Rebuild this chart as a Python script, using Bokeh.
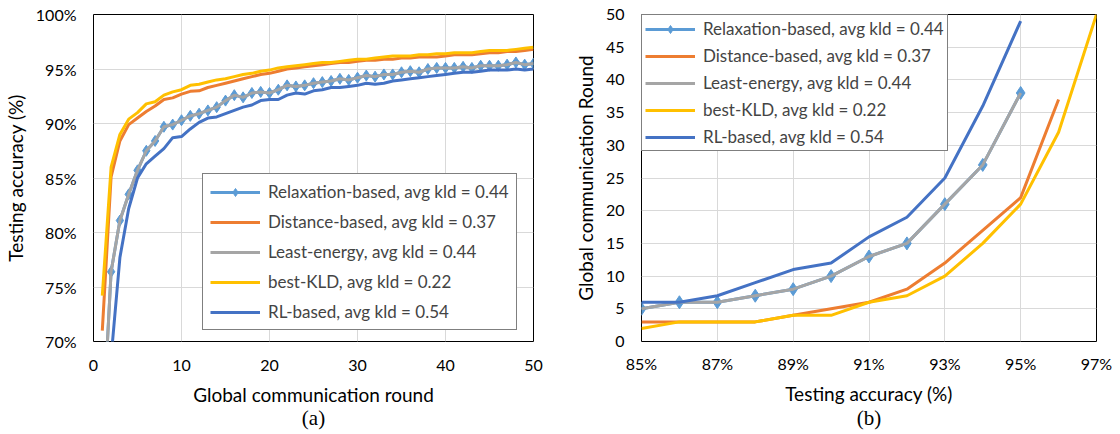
from bokeh.plotting import figure
from bokeh.layouts import row
from bokeh.models import (Legend, LegendItem, Range1d, FixedTicker, PrintfTickFormatter, Title)
from bokeh.embed import file_html
from bokeh.resources import INLINE

# ---------------- data (a) ----------------
rounds = list(range(1, 51))
relax_acc = [61.0, 76.4, 81.1, 83.5, 85.7, 87.5, 88.4, 89.7, 89.9, 90.3,
             90.7, 90.9, 91.2, 91.5, 92.1, 92.6, 92.4, 92.8, 92.9, 92.8,
             93.1, 93.5, 93.4, 93.5, 93.7, 93.8, 93.9, 94.1, 94.0, 94.2,
             94.4, 94.3, 94.5, 94.5, 94.7, 94.8, 94.7, 95.0, 95.1, 95.1,
             95.1, 95.2, 95.1, 95.3, 95.3, 95.3, 95.4, 95.6, 95.4, 95.5]
least_acc = list(relax_acc)
dist_acc = [71.0, 85.1, 88.4, 89.9, 90.5, 91.1, 91.6, 92.2, 92.35, 92.7,
            92.95, 93.0, 93.3, 93.5, 93.7, 93.9, 94.1, 94.3, 94.5, 94.6,
            94.8, 95.0, 95.1, 95.2, 95.3, 95.4, 95.5, 95.6, 95.6, 95.7,
            95.8, 95.8, 95.9, 95.9, 96.0, 96.0, 96.1, 96.1, 96.1, 96.2,
            96.3, 96.3, 96.3, 96.4, 96.5, 96.5, 96.6, 96.6, 96.7, 96.8]
kld_acc = [74.2, 86.0, 89.0, 90.4, 91.0, 91.8, 92.0, 92.6, 92.9, 93.1,
           93.5, 93.6, 93.8, 94.0, 94.1, 94.3, 94.5, 94.6, 94.8, 94.9,
           95.1, 95.2, 95.3, 95.4, 95.5, 95.6, 95.6, 95.7, 95.8, 95.9,
           95.9, 96.0, 96.1, 96.2, 96.2, 96.2, 96.3, 96.3, 96.4, 96.4,
           96.5, 96.5, 96.5, 96.6, 96.7, 96.7, 96.7, 96.8, 96.9, 97.0]
rl_acc = [50.0, 68.5, 77.7, 82.2, 85.0, 86.3, 87.0, 87.7, 88.7, 88.8,
          89.5, 90.1, 90.5, 90.6, 90.9, 91.2, 91.5, 91.7, 92.1, 92.2,
          92.2, 92.6, 92.8, 92.7, 93.0, 93.1, 93.3, 93.3, 93.4, 93.5,
          93.7, 93.6, 93.7, 93.9, 94.0, 94.1, 94.2, 94.3, 94.4, 94.5,
          94.6, 94.7, 94.7, 94.8, 94.9, 94.9, 94.9, 95.0, 94.9, 95.0]

# ---------------- data (b) ----------------
acc_relax = [85, 86, 87, 88, 89, 90, 91, 92, 93, 94, 95]
rnd_relax = [5, 6, 6, 7, 8, 10, 13, 15, 21, 27, 38]
acc_dist = [85, 86, 87, 88, 89, 90, 91, 92, 93, 94, 95, 96]
rnd_dist = [3, 3, 3, 3, 4, 5, 6, 8, 12, 17, 22, 37]
acc_least = [85, 86, 87, 88, 89, 90, 91, 92, 93, 94, 95]
rnd_least = [5, 6, 6, 7, 8, 10, 13, 15, 21, 27, 38]
acc_kld = [85, 86, 87, 88, 89, 90, 91, 92, 93, 94, 95, 96, 97]
rnd_kld = [2, 3, 3, 3, 4, 4, 6, 7, 10, 15, 21, 32, 50]
acc_rl = [85, 86, 87, 88, 89, 90, 91, 92, 93, 94, 95]
rnd_rl = [6, 6, 7, 9, 11, 12, 16, 19, 25, 36, 49]

labels = ["Relaxation-based, avg kld = 0.44",
          "Distance-based, avg kld = 0.37",
          "Least-energy, avg kld = 0.44",
          "best-KLD, avg kld = 0.22",
          "RL-based, avg kld = 0.54"]
colors = ["#5B9BD5", "#ED7D31", "#A5A5A5", "#FFC000", "#4472C4"]

FONT = "Lato"
SERIF = "Liberation Serif"
LW = 3


def style(p, xlabel, ylabel, tag, tick_off, lab_off, title_off):
    p.outline_line_color = "black"
    p.outline_line_width = 1
    p.grid.grid_line_color = "#D9D9D9"
    p.grid.grid_line_width = 1
    for ax in (p.xaxis[0], p.yaxis[0]):
        ax.axis_line_color = None
        ax.major_tick_line_color = None
        ax.minor_tick_line_color = None
        ax.major_tick_in = 0
        ax.major_tick_out = 0
        ax.major_label_text_font = FONT
        ax.major_label_text_font_size = "16px"
        ax.major_label_text_color = "#000000"
        ax.axis_label_text_font = FONT
        ax.axis_label_text_font_size = "19px"
        ax.axis_label_text_font_style = "normal"
        ax.axis_label_text_color = "#000000"
    p.xaxis[0].axis_label = xlabel
    p.yaxis[0].axis_label = ylabel
    p.xaxis[0].major_label_standoff = tick_off
    p.yaxis[0].major_label_standoff = 17
    p.xaxis[0].axis_label_standoff = lab_off
    p.yaxis[0].axis_label_standoff = 6
    t = Title(text=tag, align="center", text_font=SERIF, text_font_size="21px",
              text_font_style="normal", text_color="#000000", standoff=title_off,
              text_line_height=0.9)
    p.add_layout(t, "below")


def make_legend(renderer_groups, **kw):
    items = [LegendItem(label=lab, renderers=r) for lab, r in zip(labels, renderer_groups)]
    return Legend(items=items, border_line_color="black", border_line_width=1,
                  background_fill_alpha=1.0, glyph_width=50, glyph_height=20,
                  label_standoff=8, label_height=20, margin=0,
                  label_text_font=FONT, label_text_font_size="17px", **kw)


# ---------------- figure (a) ----------------
pa = figure(width=570, height=434, output_backend="svg", toolbar_location=None,
            x_range=Range1d(0, 50), y_range=Range1d(70, 100),
            min_border_left=93, min_border_right=37, min_border_top=14,
            min_border_bottom=93, background_fill_color="white")
pa.xaxis.ticker = FixedTicker(ticks=[0, 10, 20, 30, 40, 50])
pa.yaxis.ticker = FixedTicker(ticks=[70, 75, 80, 85, 90, 95, 100])
pa.yaxis.formatter = PrintfTickFormatter(format="%d%%")
style(pa, "Global communication round", "Testing accuracy (%)", "(a)", 18, 9, -9)

ra1 = pa.line(rounds, relax_acc, color=colors[0], line_width=LW)
ra1m = pa.scatter(rounds, relax_acc, marker="diamond", size=11, color=colors[0])
ra2 = pa.line(rounds, dist_acc, color=colors[1], line_width=LW)
ra3 = pa.line(rounds, least_acc, color=colors[2], line_width=LW)
ra4 = pa.line(rounds, kld_acc, color=colors[3], line_width=LW)
ra5 = pa.line(rounds, rl_acc, color=colors[4], line_width=LW)

leg_a = make_legend([[ra1, ra1m], [ra2], [ra3], [ra4], [ra5]],
                    location=(109, 11), padding=7, spacing=9)
pa.add_layout(leg_a, "center")

# ---------------- figure (b) ----------------
pb = figure(width=550, height=434, output_backend="svg", toolbar_location=None,
            x_range=Range1d(85, 97), y_range=Range1d(0, 50),
            min_border_left=70, min_border_right=24, min_border_top=14,
            min_border_bottom=93, background_fill_color="white")
pb.xaxis.ticker = FixedTicker(ticks=[85, 87, 89, 91, 93, 95, 97])
pb.yaxis.ticker = FixedTicker(ticks=list(range(0, 51, 5)))
pb.xaxis.formatter = PrintfTickFormatter(format="%d%%")
style(pb, "Testing accuracy (%)", "Global communication Round", "(b)", 12, 6, -8)

rb1 = pb.line(acc_relax, rnd_relax, color=colors[0], line_width=LW)
rb1m = pb.scatter(acc_relax, rnd_relax, marker="diamond", size=13, color=colors[0])
rb2 = pb.line(acc_dist, rnd_dist, color=colors[1], line_width=LW)
rb3 = pb.line(acc_least, rnd_least, color=colors[2], line_width=LW)
rb4 = pb.line(acc_kld, rnd_kld, color=colors[3], line_width=LW)
rb5 = pb.line(acc_rl, rnd_rl, color=colors[4], line_width=LW)

leg_b = make_legend([[rb1, rb1m], [rb2], [rb3], [rb4], [rb5]],
                    location="top_left", padding=3, spacing=6)
pb.add_layout(leg_b, "center")

layout = row(pa, pb)
open("out.html", "w").write(file_html(layout, INLINE))
